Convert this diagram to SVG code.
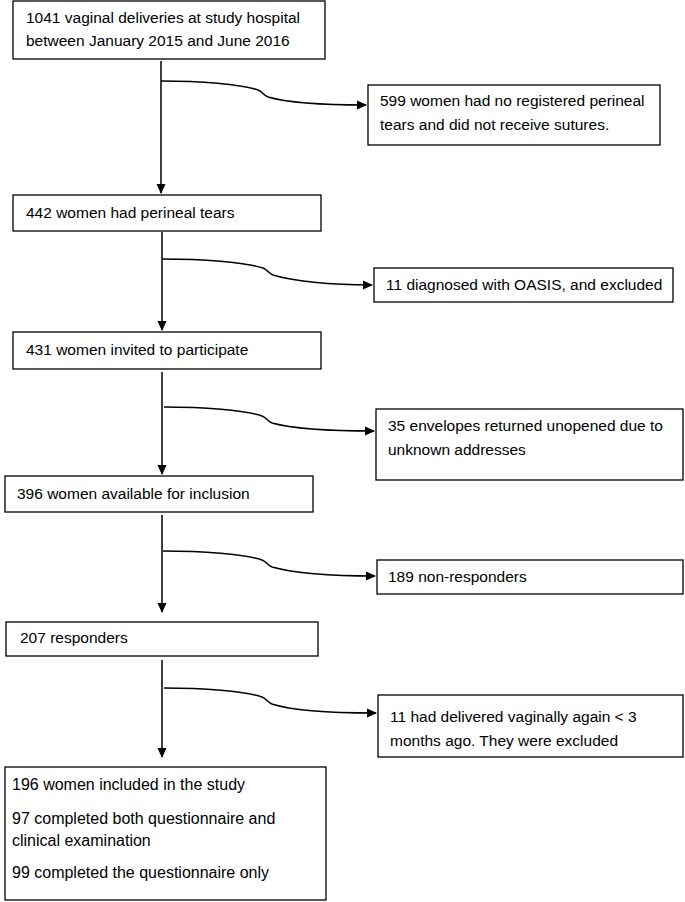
<svg xmlns="http://www.w3.org/2000/svg" width="685" height="902" viewBox="0 0 685 902">
<style>
.b{fill:#fff;stroke:#000;stroke-width:1.3}
.t{font-family:"Liberation Sans",Arial,sans-serif;font-size:15.5px;fill:#000}
.t2{font-family:"Liberation Sans",Arial,sans-serif;font-size:16px;fill:#000}
.c{fill:none;stroke:#000;stroke-width:1.5}
</style>
<defs>
<marker id="ah" markerWidth="10" markerHeight="10" refX="9" refY="5" orient="auto" markerUnits="userSpaceOnUse">
<path d="M0,0.5 L10,5 L0,9.5 Z" fill="#000"/>
</marker>
</defs>
<rect width="685" height="902" fill="#fff"/>
<g id="connectors">
<path class="c" d="M161,61 V193" marker-end="url(#ah)"/>
<path class="c" d="M161,81 C200,81 240,84 258,90 C263,92 263,95 268,97 C285,102 320,105 366,105" marker-end="url(#ah)"/>
<path class="c" d="M162,232 V330" marker-end="url(#ah)"/>
<path class="c" d="M162,259 C202,259 244,262 263,268 C268,270 268,273 273,275 C292,281 330,285 372,285" marker-end="url(#ah)"/>
<path class="c" d="M162,372 V474" marker-end="url(#ah)"/>
<path class="c" d="M164,407 C203,407 244,410 262,416 C267,418 267,421 272,423 C290,428 326,431 374,431" marker-end="url(#ah)"/>
<path class="c" d="M162,515 V612" marker-end="url(#ah)"/>
<path class="c" d="M163,551 C202,551 244,554 262,560 C267,562 267,565 272,567 C290,572 326,576 375,576" marker-end="url(#ah)"/>
<path class="c" d="M162,660 V757" marker-end="url(#ah)"/>
<path class="c" d="M164,688 C203,688 244,691 262,697 C267,699 267,702 272,704 C290,710 326,713 376,713" marker-end="url(#ah)"/>
</g>
<g id="n1"><rect class="b" x="13" y="1" width="312" height="58"/>
<text class="t" x="26" y="23">1041 vaginal deliveries at study hospital</text>
<text class="t" x="26" y="46">between January 2015 and June 2016</text></g>
<g id="n2"><rect class="b" x="368" y="85" width="292" height="60"/>
<text class="t" x="380" y="106">599 women had no registered perineal</text>
<text class="t" x="380" y="130">tears and did not receive sutures.</text></g>
<g id="n3"><rect class="b" x="13" y="195" width="308" height="36"/>
<text class="t" x="26" y="218">442 women had perineal tears</text></g>
<g id="n4"><rect class="b" x="374" y="268" width="299" height="34"/>
<text class="t" x="386" y="290">11 diagnosed with OASIS, and excluded</text></g>
<g id="n5"><rect class="b" x="13" y="332" width="308" height="37"/>
<text class="t" x="26" y="355">431 women invited to participate</text></g>
<g id="n6"><rect class="b" x="376" y="409" width="307" height="71"/>
<text class="t" x="388" y="431">35 envelopes returned unopened due to</text>
<text class="t" x="388" y="455">unknown addresses</text></g>
<g id="n7"><rect class="b" x="5" y="476" width="308" height="36"/>
<text class="t" x="17" y="499">396 women available for inclusion</text></g>
<g id="n8"><rect class="b" x="377" y="560" width="306" height="34"/>
<text class="t" x="388" y="582">189 non-responders</text></g>
<g id="n9"><rect class="b" x="6" y="622" width="312" height="34"/>
<text class="t" x="20" y="643">207 responders</text></g>
<g id="n10"><rect class="b" x="378" y="695" width="305" height="62"/>
<text class="t" x="390" y="722">11 had delivered vaginally again &lt; 3</text>
<text class="t" x="390" y="746">months ago. They were excluded</text></g>
<g id="n11"><rect class="b" x="5" y="767" width="321" height="133"/>
<text class="t2" x="12" y="790">196 women included in the study</text>
<text class="t2" x="12" y="824">97 completed both questionnaire and</text>
<text class="t2" x="12" y="846">clinical examination</text>
<text class="t2" x="12" y="878">99 completed the questionnaire only</text></g>
</svg>
